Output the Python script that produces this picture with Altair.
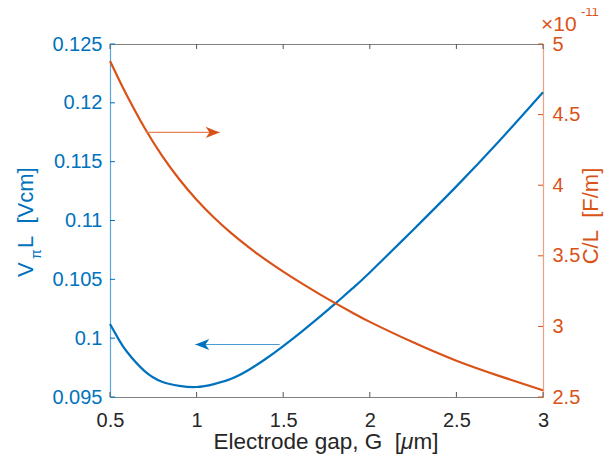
import altair as alt
import pandas as pd

# ---- data ----
gap = [0.5, 0.55, 0.6, 0.7, 0.8, 0.9, 1.0, 1.1, 1.2, 1.3, 1.4, 1.5, 1.6, 1.7,
       1.8, 1.9, 2.0, 2.25, 2.5, 2.75, 3.0]
vpil = [0.1012, 0.0999, 0.0988, 0.0972, 0.0963, 0.09595, 0.09585, 0.0961, 0.09655,
        0.0973, 0.09825, 0.09933, 0.10048, 0.10168, 0.10293, 0.10423, 0.10558,
        0.1092, 0.1129, 0.1168, 0.1209]
cl_e11 = [4.88, 4.752, 4.63, 4.405, 4.21, 4.042, 3.897, 3.771, 3.66, 3.561, 3.471,
          3.388, 3.31, 3.236, 3.165, 3.097, 3.032, 2.887, 2.757, 2.648, 2.547]

x_ticks = [0.5, 1.0, 1.5, 2.0, 2.5, 3.0]
left_ticks = [0.095, 0.1, 0.105, 0.11, 0.115, 0.12, 0.125]
right_ticks = [2.5, 3.0, 3.5, 4.0, 4.5, 5.0]

blue_arrow = {"x": [1.48], "x2": [0.9925], "y": [0.09946]}
red_arrow = {"x": [0.71], "x2": [1.133], "y": [4.374]}

BLUE = "#0072BD"
RED = "#D95319"
FONT = "Liberation Sans"
W, H = 433, 353
NB = "\u00a0"

df = pd.DataFrame({"gap": gap, "vpil": vpil, "cl": cl_e11})
xt = pd.DataFrame({"v": x_ticks})
lt = pd.DataFrame({"v": left_ticks})
rt = pd.DataFrame({"v": right_ticks})
ba = pd.DataFrame(blue_arrow)
ra = pd.DataFrame(red_arrow)

xscale = alt.Scale(domain=[0.5, 3.0], nice=False, zero=False)
lscale = alt.Scale(domain=[0.095, 0.125], nice=False, zero=False)
rscale = alt.Scale(domain=[2.5, 5.0], nice=False, zero=False)

xaxis = alt.Axis(values=x_ticks, format="~g", title=None,
                 grid=False, ticks=False, domainColor="#808080", domainWidth=1,
                 labelColor="#262626", labelFontSize=20, labelPadding=13, labelFont=FONT,
                 labelFlush=False, labelOverlap=False)
laxis = alt.Axis(orient="left", values=left_ticks, format="~g", title=None,
                 ticks=False, grid=False, domainColor="#5aa6dc", domainWidth=1.2,
                 labelColor=BLUE, labelFontSize=20, labelPadding=8, labelFont=FONT,
                 labelOverlap=False, labelFlush=False)
raxis = alt.Axis(orient="right", values=right_ticks, format="~g", title=None,
                 ticks=False, grid=False, domainColor="#f0a07e", domainWidth=1.2,
                 labelColor=RED, labelFontSize=20, labelPadding=9, labelFont=FONT,
                 labelOverlap=False, labelFlush=False)

blue_line = alt.Chart(df).mark_line(color=BLUE, strokeWidth=2.2, interpolate="natural").encode(
    x=alt.X("gap:Q", scale=xscale, axis=xaxis),
    y=alt.Y("vpil:Q", scale=lscale, axis=laxis),
)
red_line = alt.Chart(df).mark_line(color=RED, strokeWidth=2.2, interpolate="natural").encode(
    x=alt.X("gap:Q", scale=xscale),
    y=alt.Y("cl:Q", scale=rscale, axis=raxis),
)
blue_ticks = alt.Chart(lt).mark_rule(color=BLUE, strokeWidth=1).encode(
    y=alt.Y("v:Q", scale=lscale, axis=None), x=alt.value(0), x2=alt.value(5))
red_ticks = alt.Chart(rt).mark_rule(color=RED, strokeWidth=1).encode(
    y=alt.Y("v:Q", scale=rscale, axis=None), x=alt.value(W), x2=alt.value(W - 5))
xt_bottom = alt.Chart(xt).mark_rule(color="#555555", strokeWidth=1).encode(
    x=alt.X("v:Q", scale=xscale), y=alt.value(H), y2=alt.value(H - 5))
xt_top = alt.Chart(xt).mark_rule(color="#555555", strokeWidth=1).encode(
    x=alt.X("v:Q", scale=xscale), y=alt.value(0), y2=alt.value(5))

blue_arrow_line = alt.Chart(ba).mark_rule(color="#4a9bd6", strokeWidth=1.2).encode(
    x=alt.X("x:Q", scale=xscale), x2="x2:Q",
    y=alt.Y("y:Q", scale=lscale, axis=None))
blue_arrow_head = alt.Chart(ba).mark_point(
    shape="M0,0 L2,-0.8 L1.45,0 L2,0.8 Z", filled=True, color=BLUE, opacity=1, size=196
).encode(x=alt.X("x2:Q", scale=xscale), y=alt.Y("y:Q", scale=lscale, axis=None))
red_arrow_line = alt.Chart(ra).mark_rule(color="#e8825a", strokeWidth=1.2).encode(
    x=alt.X("x:Q", scale=xscale), x2="x2:Q",
    y=alt.Y("y:Q", scale=rscale, axis=None))
red_arrow_head = alt.Chart(ra).mark_point(
    shape="M0,0 L-2,-0.8 L-1.45,0 L-2,0.8 Z", filled=True, color=RED, opacity=1, size=196
).encode(x=alt.X("x2:Q", scale=xscale), y=alt.Y("y:Q", scale=rscale, axis=None))


def txt(s, x, y, size, color, angle=0, align="left", baseline="alphabetic", style="normal"):
    return alt.Chart(pd.DataFrame({"t": [s]})).mark_text(
        font=FONT, fontSize=size, color=color, angle=angle, align=align,
        baseline=baseline, fontStyle=style
    ).encode(text="t:N", x=alt.value(x), y=alt.value(y))


# left title  V_pi L [Vcm]
t_v = txt("V", -77, 233, 22, BLUE, angle=270)
t_pi = txt("\u03c0", -69, 215, 14, BLUE, angle=270)
t_l = txt("L" + NB + NB + "[Vcm]", -77, 204, 22, BLUE, angle=270)
# right title and exponent
t_r = txt("C/L" + NB + NB + "[F/m]", 488, 172, 22, RED, angle=270, align="center")
t_x10 = txt("\u00d710", 431, -13, 21, RED)
t_exp = txt("-11", 471, -28, 13, RED)
# x title  Electrode gap, G [mu m]
t_x1 = txt("Electrode gap, G" + NB + NB + "[", 291, 405, 22.5, "#262626", align="right")
t_x2 = txt("\u03bc", 291, 405, 22.5, "#262626", style="italic")
t_x3 = txt("m]", 303.5, 405, 22.5, "#262626")

chart = alt.layer(
    blue_line, red_line, blue_ticks, red_ticks, xt_bottom, xt_top,
    blue_arrow_line, blue_arrow_head, red_arrow_line, red_arrow_head,
    t_v, t_pi, t_l, t_r, t_x10, t_exp, t_x1, t_x2, t_x3
).resolve_scale(y="independent").properties(
    width=W, height=H,
    background="white",
    autosize=alt.AutoSizeParams(type="none"),
    padding={"left": 102, "top": 36, "right": 61, "bottom": 57},
).configure_view(stroke="#808080", strokeWidth=1)

chart.save("out.html", embed_options={"renderer": "svg", "actions": False})
